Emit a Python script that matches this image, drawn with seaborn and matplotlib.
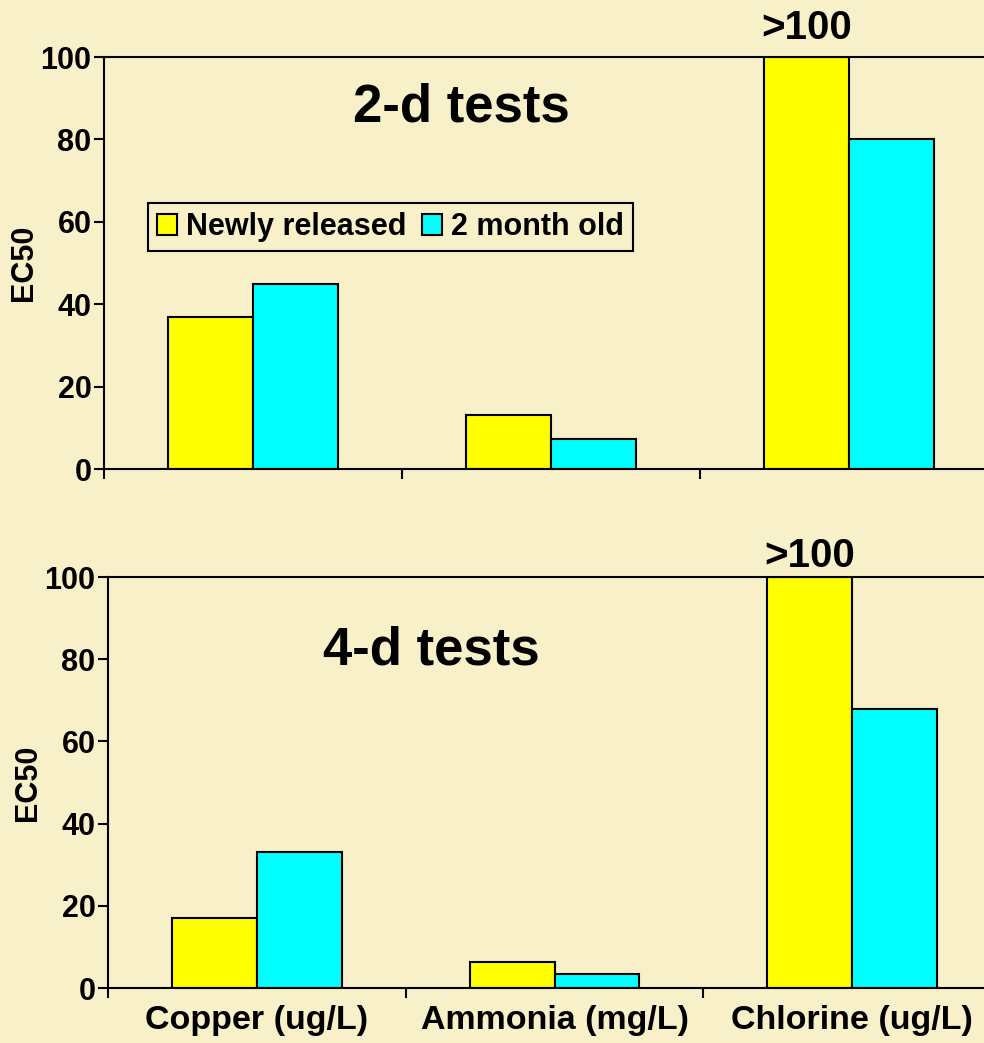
import pandas as pd
import matplotlib.pyplot as plt
from matplotlib.patches import Patch
import seaborn as sns

# Datos
categorias = ['Copper (ug/L)', 'Ammonia (mg/L)', 'Chlorine (ug/L)']
series = ['Newly released', '2 month old']
nuevos_2d = [37, 13, 100]
viejos_2d = [45, 7.3, 80]
nuevos_4d = [17, 6.3, 100]
viejos_4d = [33, 3.4, 68]
ticks_y = [0, 20, 40, 60, 80, 100]
titulos = ['2-d tests', '4-d tests']
etiqueta_max = '>100'

fondo = '#F8F0C8'
colores = ['#FFFF00', '#00FFFF']


def armar_tabla(nuevos, viejos):
    # Se arma un dataframe largo para seaborn
    filas = []
    for cat, a, b in zip(categorias, nuevos, viejos):
        filas.append({'cat': cat, 'serie': series[0], 'valor': a})
        filas.append({'cat': cat, 'serie': series[1], 'valor': b})
    return pd.DataFrame(filas)


sns.set_theme(style='ticks', rc={'text.color': 'black', 'axes.labelcolor': 'black',
                                 'xtick.color': 'black', 'ytick.color': 'black',
                                 'axes.edgecolor': 'black'})
plt.rcParams['font.family'] = ['Liberation Sans', 'DejaVu Sans']
plt.rcParams['font.weight'] = 'bold'

fig = plt.figure(figsize=(9.84, 10.43), dpi=100, facecolor=fondo)
ax1 = fig.add_axes([0.1057, 0.5503, 0.9085, 0.395])
ax2 = fig.add_axes([0.1098, 0.0527, 0.9075, 0.394])

paneles = [
    (ax1, armar_tabla(nuevos_2d, viejos_2d), titulos[0], (0.40, 0.878), 13),
    (ax2, armar_tabla(nuevos_4d, viejos_4d), titulos[1], (0.362, 0.822), 7),
]

for i, (ax, df, titulo, pos_titulo, desfase) in enumerate(paneles):
    ax.set_facecolor(fondo)
    sns.barplot(data=df, x='cat', y='valor', hue='serie', order=categorias,
                hue_order=series, palette=colores, saturation=1, width=0.57,
                edgecolor='black', linewidth=1.5, legend=False, ax=ax)
    ax.set_xlim(-0.5, 2.5)
    ax.set_ylim(0, 100)
    ax.set_yticks(ticks_y)
    ax.set_xticks([-0.5, 0.5, 1.5, 2.5], minor=True)
    ax.tick_params(axis='x', which='minor', length=7, width=1.5, color='black', direction='out')
    ax.tick_params(axis='x', which='major', length=0, pad=12, labelsize=24.5, labelcolor='black')
    ax.tick_params(axis='y', length=7, width=1.5, color='black', pad=2, labelsize=22, labelcolor='black')
    for s in ax.spines.values():
        s.set_linewidth(1.5)
        s.set_color('black')
    ax.set_xlabel('')
    ax.set_ylabel('EC50', fontsize=22, fontweight='bold', labelpad=1, color='black')
    if i == 0:
        ax.tick_params(axis='x', which='major', labelbottom=False)

    # Titulo dentro del grafico
    ax.text(pos_titulo[0], pos_titulo[1], titulo, transform=ax.transAxes,
            ha='center', va='center', fontsize=38, fontweight='bold', color='black')

    # Etiqueta >100 sobre la barra que llega al tope
    for p in ax.patches:
        if p.get_height() >= 100:
            ax.annotate(etiqueta_max, (p.get_x() + p.get_width() / 2, 100),
                        xytext=(0, desfase), textcoords='offset points',
                        ha='center', va='baseline', fontsize=29, color='black',
                        fontweight='bold', annotation_clip=False)

# Leyenda del grafico superior
manejadores = [Patch(facecolor=c, edgecolor='black', linewidth=1.5) for c in colores]
leyenda = ax1.legend(manejadores, series, loc='upper left', bbox_to_anchor=(0.049, 0.646),
                     ncol=2, frameon=True, fancybox=False, edgecolor='black',
                     facecolor=fondo, framealpha=1, fontsize=22, handlelength=0.65,
                     handleheight=0.65, handletextpad=0.3, columnspacing=0.5,
                     borderpad=0.3, borderaxespad=0, labelcolor='black')
leyenda.get_frame().set_linewidth(1.5)

fig.savefig('out.png', dpi=100, facecolor=fondo)
